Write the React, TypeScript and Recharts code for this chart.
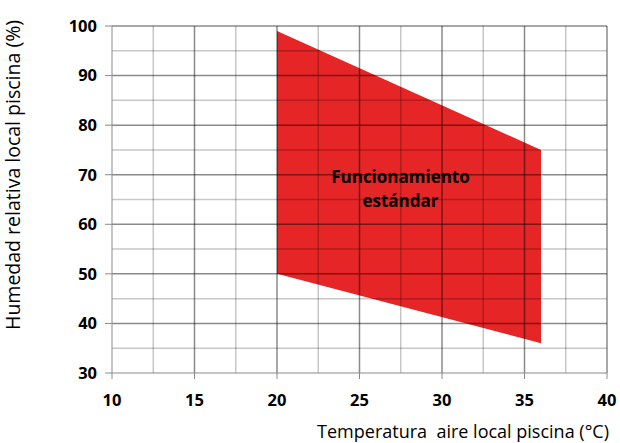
import { ComposedChart, Area, XAxis, YAxis, ReferenceLine, Label } from "recharts"

const tempTicks = [10, 15, 20, 25, 30, 35, 40]
const tempMinor = [12.5, 17.5, 22.5, 27.5, 32.5, 37.5]
const humTicks = [30, 40, 50, 60, 70, 80, 90, 100]
const humMinor = [35, 45, 55, 65, 75, 85, 95]

// operating zone: temperature -> [min humidity, max humidity]
const zoneTemp = [20, 36]
const zoneLow = [50, 36]
const zoneHigh = [99, 75]

const data = zoneTemp.map((t, i) => ({ t, range: [zoneLow[i], zoneHigh[i]] }))

const font = "'Open Sans', sans-serif"
const major = "rgba(0,0,0,0.46)"
const minor = "rgba(0,0,0,0.22)"

export default function App() {
  return (
    <div style={{ position: "absolute", left: 0, top: 0, background: "#fff" }}>
      <ComposedChart
        width={620}
        height={443}
        data={data}
        margin={{ top: 26, right: 13, left: 0, bottom: 0 }}
        style={{ fontFamily: font }}
      >
        <XAxis
          type="number"
          dataKey="t"
          domain={[10, 40]}
          ticks={tempTicks}
          interval={0}
          height={70}
          tickSize={6}
          tickMargin={15}
          stroke="#8a8a8a"
          tick={{ fill: "#000", fontSize: 16.5, fontWeight: 700 }}
        >
          <Label
            content={() => (
              <text
                x={609}
                y={438}
                textAnchor="end"
                fontSize={18}
                fill="#000"
                fontFamily={font}
                style={{ whiteSpace: "pre" }}
              >
                Temperatura  aire local piscina (°C)
              </text>
            )}
          />
        </XAxis>
        <YAxis
          type="number"
          domain={[30, 100]}
          ticks={humTicks}
          interval={0}
          width={112}
          tickSize={7}
          tickMargin={8}
          stroke="#8a8a8a"
          tick={{ fill: "#000", fontSize: 16.5, fontWeight: 700 }}
        >
          <Label
            content={() => (
              <text
                x={0}
                y={0}
                transform="translate(20,175) rotate(-90)"
                textAnchor="middle"
                fontSize={19.5}
                fill="#000"
                fontFamily={font}
              >
                Humedad relativa local piscina (%)
              </text>
            )}
          />
        </YAxis>
        <Area
          dataKey="range"
          type="linear"
          fill="#e52526"
          fillOpacity={1}
          stroke="none"
          isAnimationActive={false}
        />
        {tempMinor.map((v) => (
          <ReferenceLine key={"xm" + v} x={v} stroke={minor} strokeWidth={1.5} />
        ))}
        {humMinor.map((v) => (
          <ReferenceLine key={"ym" + v} y={v} stroke={minor} strokeWidth={1.5} />
        ))}
        {tempTicks.slice(1).map((v) => (
          <ReferenceLine key={"x" + v} x={v} stroke={major} strokeWidth={1.5} />
        ))}
        {humTicks.slice(1).map((v) => (
          <ReferenceLine key={"y" + v} y={v} stroke={major} strokeWidth={1.5} />
        ))}
        <ReferenceLine
          y={65}
          stroke="none"
          label={{
            content: () => (
              <text textAnchor="middle" fontSize={17} fontWeight={700} fill="#000" fontFamily={font}>
                <tspan x={400.5} y={182.5}>Funcionamiento</tspan>
                <tspan x={400.5} y={206.5}>estándar</tspan>
              </text>
            ),
          }}
        />
      </ComposedChart>
    </div>
  )
}
